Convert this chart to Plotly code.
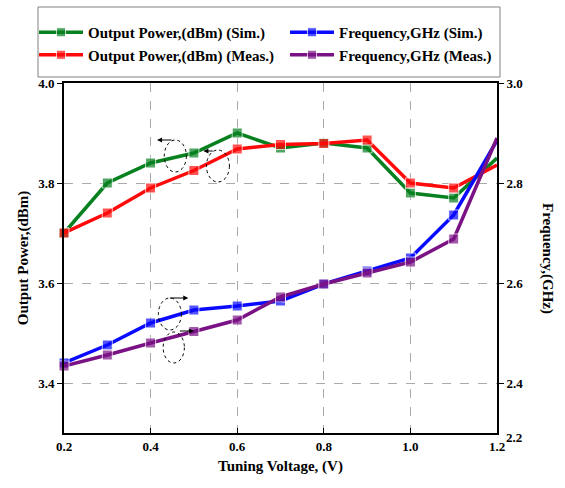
import plotly.graph_objects as go

voltage = [0.2, 0.3, 0.4, 0.5, 0.6, 0.7, 0.8, 0.9, 1.0, 1.1, 1.2]
power_sim = [3.70, 3.80, 3.84, 3.86, 3.90, 3.87, 3.88, 3.87, 3.78, 3.77, 3.85]
power_meas = [3.70, 3.74, 3.79, 3.825, 3.868, 3.877, 3.879, 3.886, 3.80, 3.79, 3.836]
freq_sim = [2.44, 2.476, 2.52, 2.546, 2.554, 2.564, 2.598, 2.624, 2.65, 2.736, 2.885]
freq_meas = [2.434, 2.456, 2.48, 2.503, 2.526, 2.572, 2.598, 2.62, 2.642, 2.688, 2.89]

x_ticks = [0.2, 0.4, 0.6, 0.8, 1.0, 1.2]
left_ticks = [3.4, 3.6, 3.8, 4.0]
right_ticks = [2.4, 2.6, 2.8, 3.0]

FONT = "Liberation Serif"
GREEN = "#078020"
RED = "#ff0a0a"
BLUE = "#0a0aff"
PURPLE = "#7a1285"

msize = [10] * (len(voltage) - 1) + [0]

fig = go.Figure()

def add(y, name, color, axis, legend):
    fig.add_trace(go.Scatter(
        x=voltage, y=y, name=f"<b>{name}</b>", mode="lines+markers", yaxis=axis,
        line=dict(color=color, width=3.5),
        marker=dict(symbol="square", size=msize, color=color),
        cliponaxis=False, legend=legend,
    ))

add(power_sim, "Output Power,(dBm) (Sim.)", GREEN, "y", "legend")
add(power_meas, "Output Power,(dBm) (Meas.)", RED, "y", "legend")
add(freq_sim, "Frequency,GHz (Sim.)", BLUE, "y2", "legend2")
add(freq_meas, "Frequency,GHz (Meas.)", PURPLE, "y2", "legend2")

# dashed ellipses
ellipses = [
    (0.4316, 0.4826, 3.822, 3.886),
    (0.529, 0.582, 3.802, 3.866),
    (0.418, 0.471, 3.506, 3.570),
    (0.429, 0.478, 3.440, 3.502),
]
for x0, x1, y0, y1 in ellipses:
    fig.add_shape(type="circle", xref="x", yref="y", x0=x0, x1=x1, y0=y0, y1=y1,
                  line=dict(color="black", width=1, dash="dot"))

arrows = [
    (0.452, 0.415, 3.886),
    (0.547, 0.522, 3.864),
    (0.441, 0.487, 3.570),
    (0.464, 0.500, 3.504),
]
for xt, xh, yy in arrows:
    fig.add_annotation(x=xh, y=yy, ax=xt, ay=yy, xref="x", yref="y", axref="x", ayref="y",
                       text="", showarrow=True, arrowhead=2, arrowsize=1, arrowwidth=1,
                       arrowcolor="black")

# legend box
L, R, T, B = 64, 497, 83, 433
pw, ph = R - L, B - T
fig.add_shape(type="rect", xref="paper", yref="paper",
              x0=(38 - L) / pw, x1=(500 - L) / pw,
              y0=1 + (T - 77) / ph, y1=1 + (T - 7) / ph,
              line=dict(color="#808080", width=1))

# right axis oddly placed label and title
fig.add_annotation(x=1, y=0, xref="paper", yref="paper", text="<b>2.2</b>", showarrow=False,
                   xanchor="left", yanchor="middle", xshift=7, yshift=-4,
                   font=dict(family=FONT, size=13, color="black"))
fig.add_annotation(x=1, y=0.5, xref="paper", yref="paper", text="<b>Frequency,(GHz)</b>",
                   showarrow=False, textangle=90, xanchor="center", yanchor="middle",
                   xshift=51, font=dict(family=FONT, size=15, color="black"))

leg_common = dict(xanchor="left", yanchor="top", itemwidth=44,
                  font=dict(family=FONT, size=15, color="black"),
                  bgcolor="rgba(0,0,0,0)", tracegroupgap=0)

fig.update_layout(
    width=565, height=488,
    margin=dict(l=L, r=565 - R, t=T, b=488 - B),
    paper_bgcolor="white", plot_bgcolor="white",
    font=dict(family=FONT, size=13, color="black"),
    showlegend=True,
    legend=dict(x=(34 - L) / pw, y=1 + (T - 16) / ph, **leg_common),
    legend2=dict(x=(285 - L) / pw, y=1 + (T - 16) / ph, **leg_common),
    xaxis=dict(range=[0.2, 1.2], tickvals=x_ticks, ticktext=[f"<b>{v:.1f}</b>" for v in x_ticks],
               showline=True, linecolor="black", linewidth=2, mirror=True,
               ticks="inside", ticklen=5, tickcolor="black", tickwidth=1,
               showgrid=True, gridcolor="#aaaaaa", griddash="dash", gridwidth=1,
               zeroline=False,
               title=dict(text="<b>Tuning Voltage, (V)</b>", font=dict(family=FONT, size=15), standoff=8)),
    yaxis=dict(range=[3.3, 4.0], tickvals=left_ticks, ticktext=[f"<b>{v:.1f}</b>" for v in left_ticks],
               showline=True, linecolor="black", linewidth=2, mirror=True,
               ticks="outside", ticklen=5, tickcolor="black", tickwidth=1,
               showgrid=True, gridcolor="#aaaaaa", griddash="dash", gridwidth=1,
               zeroline=False,
               title=dict(text="<b>Output Power,(dBm)</b>", font=dict(family=FONT, size=15), standoff=6)),
    yaxis2=dict(range=[2.3, 3.0], tickvals=right_ticks, ticktext=[f"<b>{v:.1f}</b>" for v in right_ticks],
                overlaying="y", side="right", showline=True, linecolor="black", linewidth=2,
                ticks="outside", ticklen=5, tickcolor="black", tickwidth=1,
                showgrid=False, zeroline=False),
)

fig.write_html("out.html")
